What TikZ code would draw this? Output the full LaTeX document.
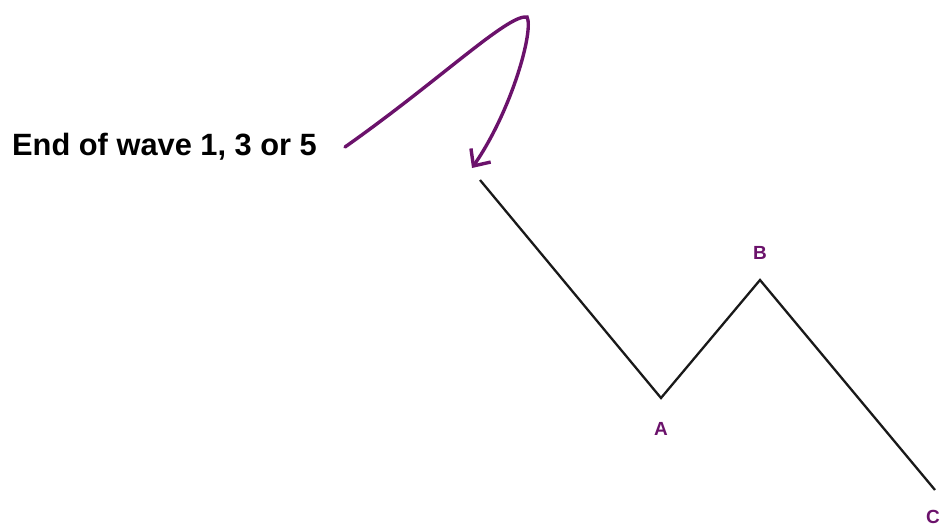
\documentclass[tikz,border=0pt]{standalone}
\usepackage{fontspec}
\setsansfont{Liberation Sans}
\usepackage{xcolor}
\usepackage{tikz}
\usetikzlibrary{arrows.meta}
\definecolor{wavepurple}{rgb}{0.42,0.07,0.42}

\begin{document}
\begin{tikzpicture}[x=1pt, y=-1pt,
  wave/.style={line width=2.3pt, black!90, line join=miter},
  pointer/.style={line width=3.4pt, wavepurple, line cap=round,
                  -{Straight Barb[length=13pt, width=24pt, line width=3.4pt]}},
  ptlbl/.style={font=\sffamily\bfseries\fontsize{19}{19}\selectfont, wavepurple},
  note/.style={font=\sffamily\bfseries\fontsize{30.8}{31}\selectfont, black},
]
\clip (0,0) rectangle (941,528);
\useasboundingbox (0,0) rectangle (941,528);

%% the corrective swing
\coordinate (top) at (480,180);
\coordinate (a) at (661,398);
\coordinate (b) at (760,280);
\coordinate (c) at (935,490);
\draw[wave] (top) -- (a) -- (b) -- (c);

%% point labels
\node[ptlbl] (albl) at (661,429) {A};
\node[ptlbl] (blbl) at (760,253) {B};
\node[ptlbl, anchor=east, inner xsep=1pt] (clbl) at (941,517) {C};

%% note and pointer
\node[note, anchor=west, inner xsep=0pt] (endnote) at (12,147) {End of wave 1, 3 or 5};
\coordinate (tail) at (345,147);
\coordinate (peak) at (527,17);
\coordinate (tip) at (472,168);
\draw[pointer] (tail) .. controls (440,80) and (508,14) .. (peak)
  .. controls (534,30) and (512,110) .. (tip);
\end{tikzpicture}
\end{document}
